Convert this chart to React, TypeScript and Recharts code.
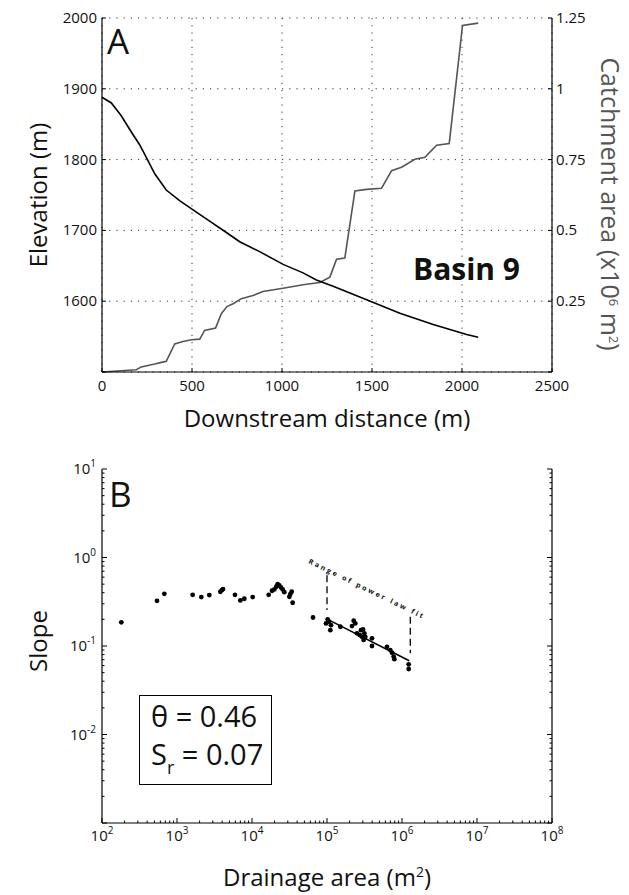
import React from "react";
import {
  CartesianGrid,
  Label,
  Line,
  LineChart,
  ReferenceLine,
  Scatter,
  ScatterChart,
  XAxis,
  YAxis,
} from "recharts";

const FONT = "'Open Sans', 'Noto Sans', sans-serif";

// ---- Panel A: long profile (elevation) ----
const elevDist = [0, 52, 107, 163, 209, 246, 293, 357, 431, 506, 598, 691, 765, 876, 1006, 1117, 1191, 1284, 1470, 1655, 1840, 2026, 2090];
const elevation = [1888, 1880, 1862, 1839, 1821, 1803, 1780, 1757, 1742, 1729, 1713, 1697, 1684, 1670, 1652, 1640, 1630, 1621, 1602, 1583, 1567, 1553, 1549];

// ---- Panel A: catchment area (x10^6 m2) ----
const areaDist = [0, 191, 218, 293, 330, 357, 404, 450, 496, 543, 570, 631, 663, 694, 728, 774, 839, 894, 1006, 1117, 1210, 1266, 1303, 1349, 1405, 1470, 1553, 1609, 1664, 1738, 1794, 1859, 1929, 2003, 2090];
const catchment = [0, 0.008, 0.018, 0.028, 0.034, 0.038, 0.099, 0.108, 0.114, 0.116, 0.147, 0.155, 0.206, 0.231, 0.241, 0.259, 0.27, 0.284, 0.296, 0.308, 0.316, 0.335, 0.398, 0.402, 0.639, 0.645, 0.649, 0.711, 0.723, 0.751, 0.758, 0.801, 0.807, 1.224, 1.232];

const distTicks = [0, 500, 1000, 1500, 2000, 2500];
const elevTicks = [1500, 1600, 1700, 1800, 1900, 2000];
const catchTicks = [0, 0.25, 0.5, 0.75, 1, 1.25];

// ---- Panel B: slope-area ----
const drainage = [181, 541, 678, 1618, 2109, 2698, 3784, 3981, 4106, 5930, 6987, 7900, 10215, 16680, 18490, 19860, 21100, 21990, 23130, 24370, 25630, 26980, 31480, 32450, 33810, 34830, 65040, 97000, 102100, 106400, 110800, 113000, 150600, 226800, 238600, 215400, 251200, 272800, 284000, 293000, 302000, 308000, 315000, 324000, 398000, 398000, 631000, 698000, 736000, 774000, 791000, 1227000, 1227000];
const slope = [0.185, 0.324, 0.389, 0.379, 0.357, 0.376, 0.41, 0.428, 0.44, 0.379, 0.327, 0.342, 0.357, 0.379, 0.421, 0.436, 0.467, 0.5, 0.483, 0.459, 0.436, 0.406, 0.36, 0.386, 0.41, 0.308, 0.21, 0.18, 0.2, 0.188, 0.151, 0.172, 0.165, 0.193, 0.18, 0.168, 0.139, 0.133, 0.151, 0.127, 0.154, 0.117, 0.139, 0.127, 0.122, 0.1, 0.098, 0.09, 0.084, 0.076, 0.071, 0.062, 0.055];

// power-law fit ends and range markers
const fitArea = [102000, 1250000];
const fitSlope = [0.2, 0.068];
const rangeArea = [100000, 1290000];
const rangeTop = [0.63, 0.214];
const rangeBottom = [0.255, 0.083];

const areaMajors = [1e2, 1e3, 1e4, 1e5, 1e6, 1e7, 1e8];
const slopeMajors = [1e-3, 1e-2, 1e-1, 1, 10];

const withMinors = (majors: number[]) => {
  const out: number[] = [];
  majors.forEach((m, i) => {
    out.push(m);
    if (i < majors.length - 1) for (let k = 2; k <= 9; k++) out.push(+(k * m).toPrecision(6));
  });
  return out;
};
const areaTicks = withMinors(areaMajors);
const slopeTicks = withMinors(slopeMajors);

const elevData = elevDist.map((d, i) => ({ d, e: elevation[i] }));
const areaData = areaDist.map((d, i) => ({ d, c: catchment[i] }));
const slopeData = drainage.map((a, i) => ({ a, s: slope[i] }));

type Side = "bottom" | "top" | "left" | "right";

const isMajor = (v: number) => Math.abs(Math.log10(v) - Math.round(Math.log10(v))) < 1e-6;

function linTick(side: Side, show: (v: number) => boolean, fmt: (v: number) => string = (v) => `${v}`) {
  return (p: any) => {
    const { x, y } = p;
    const v = p.payload.value;
    const len = 4;
    let l = null;
    let t = null;
    if (side === "bottom") {
      l = <line x1={x} y1={y} x2={x} y2={y - len} stroke="#000" />;
      t = <text x={x} y={y + 19} textAnchor="middle">{fmt(v)}</text>;
    } else if (side === "top") {
      l = <line x1={x} y1={y} x2={x} y2={y + len} stroke="#000" />;
    } else if (side === "left") {
      l = <line x1={x} y1={y} x2={x + len} y2={y} stroke="#000" />;
      t = <text x={x - 5} y={y + 5} textAnchor="end">{fmt(v)}</text>;
    } else {
      l = <line x1={x} y1={y} x2={x - len} y2={y} stroke="#000" />;
      t = <text x={x + 4} y={y + 5} textAnchor="start">{fmt(v)}</text>;
    }
    return (
      <g fontFamily={FONT} fontSize={15} fill="#111">
        {l}
        {t && show(v) ? t : null}
      </g>
    );
  };
}

function logTick(side: Side, show: (v: number) => boolean) {
  return (p: any) => {
    const { x, y } = p;
    const v = p.payload.value;
    const major = isMajor(v);
    const len = major ? 5 : 2.5;
    const exp = Math.round(Math.log10(v));
    let l = null;
    let t = null;
    if (side === "bottom") {
      l = <line x1={x} y1={y} x2={x} y2={y - len} stroke="#000" />;
      t = (
        <text x={x} y={y + 18} textAnchor="middle">
          10<tspan dy={-7} fontSize={10}>{exp}</tspan>
        </text>
      );
    } else if (side === "top") {
      l = <line x1={x} y1={y} x2={x} y2={y + len} stroke="#000" />;
    } else if (side === "left") {
      l = <line x1={x} y1={y} x2={x + len} y2={y} stroke="#000" />;
      t = (
        <text x={x - 6} y={y + 5} textAnchor="end">
          10<tspan dy={-7} fontSize={10}>{exp}</tspan>
        </text>
      );
    } else {
      l = <line x1={x} y1={y} x2={x - len} y2={y} stroke="#000" />;
    }
    return (
      <g fontFamily={FONT} fontSize={15} fill="#111">
        {l}
        {major && t && show(v) ? t : null}
      </g>
    );
  };
}

const axisLine = { stroke: "#000", strokeWidth: 1.2 };

function ProfilePanel() {
  return (
    <LineChart width={629} height={440} margin={{ top: 18, right: 17, bottom: 38, left: 0 }}>
      <CartesianGrid yAxisId="left" strokeDasharray="1.2 6" stroke="#333" />
      <XAxis
        type="number"
        dataKey="d"
        domain={[0, 2500]}
        ticks={distTicks}
        interval={0}
        tickSize={0}
        tickMargin={0}
        tickLine={false}
        axisLine={axisLine}
        tick={linTick("bottom", () => true)}
        height={30}
      >
        <Label
          content={() => (
            <text x={327} y={427} textAnchor="middle" fontFamily={FONT} fontSize={24} fill="#111">
              Downstream distance (m)
            </text>
          )}
        />
      </XAxis>
      <XAxis
        xAxisId="top"
        orientation="top"
        type="number"
        dataKey="d"
        domain={[0, 2500]}
        ticks={distTicks}
        interval={0}
        tickSize={0}
        tickMargin={0}
        tickLine={false}
        axisLine={axisLine}
        tick={linTick("top", () => false)}
        height={0}
      />
      <YAxis
        yAxisId="left"
        domain={[1500, 2000]}
        ticks={elevTicks}
        interval={0}
        tickSize={0}
        tickMargin={0}
        tickLine={false}
        axisLine={axisLine}
        tick={linTick("left", (v) => v > 1500)}
        width={102}
      >
        <Label
          content={() => (
            <text
              x={47}
              y={195}
              transform="rotate(-90 47 195)"
              textAnchor="middle"
              fontFamily={FONT}
              fontSize={24}
              fill="#111"
            >
              Elevation (m)
            </text>
          )}
        />
      </YAxis>
      <YAxis
        yAxisId="right"
        orientation="right"
        domain={[0, 1.25]}
        ticks={catchTicks}
        interval={0}
        tickSize={0}
        tickMargin={0}
        tickLine={false}
        axisLine={axisLine}
        tick={linTick("right", (v) => v > 0)}
        width={60}
      >
        <Label
          content={() => (
            <text
              x={601}
              y={204}
              transform="rotate(90 601 204)"
              textAnchor="middle"
              fontFamily={FONT}
              fontSize={25}
              fill="#555"
            >
              Catchment area (x10<tspan dy={-8} fontSize={13}>6</tspan>
              <tspan dy={8}> m</tspan>
              <tspan dy={-8} fontSize={13}>2</tspan>
              <tspan dy={8}>)</tspan>
            </text>
          )}
        />
      </YAxis>
      <Line
        yAxisId="right"
        data={areaData}
        dataKey="c"
        stroke="#555"
        strokeWidth={1.6}
        dot={false}
        isAnimationActive={false}
      />
      <Line
        yAxisId="left"
        data={elevData}
        dataKey="e"
        stroke="#000"
        strokeWidth={1.6}
        dot={false}
        isAnimationActive={false}
      />
    </LineChart>
  );
}

function SlopeAreaPanel() {
  return (
    <ScatterChart width={629} height={455} margin={{ top: 29, right: 17, bottom: 42, left: 0 }}>
      <XAxis
        type="number"
        dataKey="a"
        scale="log"
        domain={[1e2, 1e8]}
        ticks={areaTicks}
        interval={0}
        allowDataOverflow
        tickSize={0}
        tickMargin={0}
        tickLine={false}
        axisLine={axisLine}
        tick={logTick("bottom", () => true)}
        height={30}
      >
        <Label
          content={() => (
            <text x={327} y={446} textAnchor="middle" fontFamily={FONT} fontSize={24} fill="#111">
              Drainage area (m<tspan dy={-9} fontSize={14}>2</tspan>
              <tspan dy={9}>)</tspan>
            </text>
          )}
        />
      </XAxis>
      <XAxis
        xAxisId="top"
        orientation="top"
        type="number"
        dataKey="a"
        scale="log"
        domain={[1e2, 1e8]}
        ticks={areaTicks}
        interval={0}
        allowDataOverflow
        tickSize={0}
        tickMargin={0}
        tickLine={false}
        axisLine={axisLine}
        tick={logTick("top", () => false)}
        height={0}
      />
      <YAxis
        yAxisId="l"
        type="number"
        dataKey="s"
        scale="log"
        domain={[1e-3, 10]}
        ticks={slopeTicks}
        interval={0}
        allowDataOverflow
        tickSize={0}
        tickMargin={0}
        tickLine={false}
        axisLine={axisLine}
        tick={logTick("left", (v) => v > 0.002)}
        width={102}
      >
        <Label
          content={() => (
            <text
              x={47}
              y={201}
              transform="rotate(-90 47 201)"
              textAnchor="middle"
              fontFamily={FONT}
              fontSize={24}
              fill="#111"
            >
              Slope
            </text>
          )}
        />
      </YAxis>
      <YAxis
        yAxisId="r"
        orientation="right"
        type="number"
        dataKey="s"
        scale="log"
        domain={[1e-3, 10]}
        ticks={slopeTicks}
        interval={0}
        allowDataOverflow
        tickSize={0}
        tickMargin={0}
        tickLine={false}
        axisLine={axisLine}
        tick={logTick("right", () => false)}
        width={60}
      />
      <ReferenceLine
        yAxisId="l"
        segment={[
          { x: fitArea[0], y: fitSlope[0] },
          { x: fitArea[1], y: fitSlope[1] },
        ]}
        stroke="#000"
        strokeWidth={1.6}
      />
      {rangeArea.map((a, i) => (
        <ReferenceLine
          key={a}
          yAxisId="l"
          segment={[
            { x: a, y: rangeTop[i] },
            { x: a, y: rangeBottom[i] },
          ]}
          stroke="#000"
          strokeWidth={1.3}
          strokeDasharray="7 4"
        />
      ))}
      <Scatter
        yAxisId="l"
        data={slopeData}
        isAnimationActive={false}
        shape={(p: any) => <circle cx={p.cx} cy={p.cy} r={2.4} fill="#000" />}
      />
    </ScatterChart>
  );
}

export default function App() {
  return (
    <div style={{ position: "absolute", left: 0, top: 0, width: 629, height: 895, background: "#fff" }}>
      <div style={{ position: "absolute", left: 0, top: 0 }}>
        <ProfilePanel />
      </div>
      <div style={{ position: "absolute", left: 0, top: 440 }}>
        <SlopeAreaPanel />
      </div>
      <svg
        width={629}
        height={895}
        style={{ position: "absolute", left: 0, top: 0, pointerEvents: "none" }}
        fontFamily={FONT}
      >
        <text x={107} y={54} fontSize={35} fill="#111">A</text>
        <text x={413} y={280} fontSize={30} fontWeight={700} fill="#111">Basin 9</text>
        <text x={109} y={507} fontSize={35} fill="#111">B</text>
        <text
          transform="translate(308 563) rotate(26)"
          fontSize={7}
          fontWeight={700}
          letterSpacing={2.3}
          fill="#111"
        >
          Range of power law fit
        </text>
        <rect x={139.5} y={695.5} width={132} height={89} fill="none" stroke="#000" strokeWidth={1} />
        <text x={151} y={727} fontSize={29} fill="#111">θ = 0.46</text>
        <text x={151} y={765} fontSize={29} fill="#111">
          S<tspan dy={9} fontSize={18}>r</tspan>
          <tspan dy={-9}> = 0.07</tspan>
        </text>
      </svg>
    </div>
  );
}
